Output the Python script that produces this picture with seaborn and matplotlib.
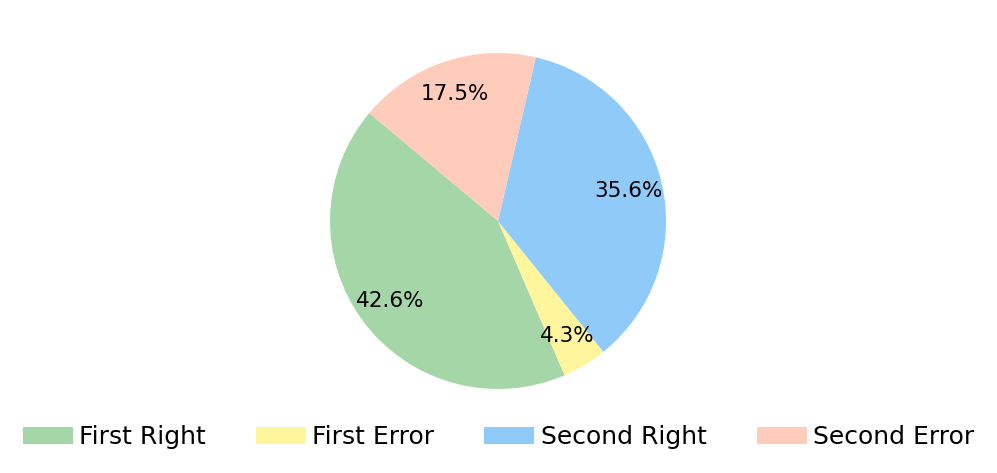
import matplotlib
matplotlib.use("Agg")
import matplotlib.pyplot as plt
import matplotlib.patches as mpatches
import seaborn as sns

# data
labels = ["First Right", "First Error", "Second Right", "Second Error"]
values = [42.6, 4.3, 35.6, 17.5]
colors = sns.color_palette(["#A5D6A7", "#FFF59D", "#90CAF9", "#FFCCBC"])

sns.set_style("white")
plt.rcParams["font.family"] = ["DejaVu Sans"]

fig = plt.figure(figsize=(9.97, 4.73), dpi=100)
ax = fig.add_axes([330 / 997, 84 / 473, 336 / 997, 336 / 473])

ax.pie(values, colors=colors, startangle=140, autopct="%1.1f%%",
       pctdistance=0.8, textprops={"fontsize": 15.5, "color": "black"},
       wedgeprops={"linewidth": 0, "edgecolor": "none"})
ax.set_xlim(-1, 1)
ax.set_ylim(-1, 1)
ax.set_aspect("equal")
ax.axis("off")

handles = [mpatches.Patch(facecolor=c, edgecolor="none", label=l) for c, l in zip(colors, labels)]
fig.legend(handles=handles, loc="center", bbox_to_anchor=(0.5, 36 / 473),
           ncol=4, frameon=False, fontsize=18, labelcolor="black",
           handlelength=2.0, handleheight=0.7, columnspacing=2.0,
           handletextpad=0.25)

plt.savefig("out.png", dpi=100)
